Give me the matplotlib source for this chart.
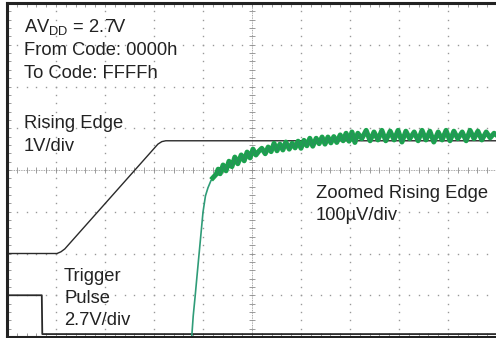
import numpy as np
import matplotlib.pyplot as plt

plt.rcParams['font.family'] = ['Liberation Sans', 'DejaVu Sans']
plt.rcParams['mathtext.fontset'] = 'custom'
plt.rcParams['mathtext.rm'] = 'Liberation Sans'

# traces, in scope divisions (10 x 8 screen)
rise_x = [0.0, 1.02, 1.10, 1.18, 3.08, 3.16, 3.24, 10.2]
rise_y = [2.0, 2.0, 2.04, 2.11, 4.62, 4.68, 4.70, 4.70]

trig_x = [0.0, 0.71, 0.72, 10.2]
trig_y = [1.0, 1.0, 0.07, 0.07]

zoom_steep_x = [3.77, 3.80, 3.84, 3.88, 3.92, 3.96, 4.00, 4.05, 4.10, 4.16, 4.20]
zoom_steep_y = [0.0, 0.50, 0.98, 1.49, 1.99, 2.49, 2.99, 3.38, 3.57, 3.74, 3.81]

zoom_x = [4.20, 4.27, 4.31, 4.35, 4.41, 4.47, 4.53, 4.59, 4.65, 4.71, 4.78, 4.84,
          4.90, 4.96, 5.02, 5.08, 5.14, 5.20, 5.27, 5.33, 5.39, 5.45, 5.51, 5.57,
          5.63, 5.69, 5.76, 5.82, 5.88, 5.94, 6.00, 6.06, 6.12, 6.18, 6.24, 6.31,
          6.37, 6.43, 6.49, 6.55, 6.61, 6.67, 6.73, 6.80, 6.86, 6.92, 6.98, 7.04,
          7.10, 7.16, 7.24, 7.33, 7.41, 7.49, 7.57, 7.65, 7.73, 7.82, 7.90, 7.98,
          8.06, 8.14, 8.22, 8.31, 8.39, 8.47, 8.55, 8.63, 8.71, 8.80, 8.88, 8.96,
          9.04, 9.12, 9.20, 9.29, 9.37, 9.45, 9.53, 9.61, 9.69, 9.78, 9.86, 9.94,
          10.02]
zoom_y = [3.81, 3.90, 4.02, 3.91, 4.12, 3.98, 4.21, 4.08, 4.31, 4.15, 4.36, 4.22,
          4.43, 4.29, 4.50, 4.36, 4.45, 4.52, 4.39, 4.55, 4.44, 4.64, 4.46, 4.62,
          4.48, 4.67, 4.50, 4.64, 4.53, 4.69, 4.52, 4.71, 4.58, 4.76, 4.57, 4.76,
          4.63, 4.79, 4.62, 4.79, 4.65, 4.80, 4.66, 4.84, 4.70, 4.88, 4.69, 4.91,
          4.66, 4.88, 4.75, 4.95, 4.70, 4.91, 4.72, 4.95, 4.70, 4.93, 4.72, 4.95,
          4.67, 4.93, 4.75, 4.91, 4.70, 4.95, 4.72, 4.93, 4.67, 4.91, 4.72, 4.95,
          4.70, 4.93, 4.75, 4.91, 4.70, 4.95, 4.75, 4.93, 4.72, 4.91, 4.77, 4.88,
          4.81]

W, H = 496, 338
fig = plt.figure(figsize=(W / 100, H / 100), dpi=100)
ax = fig.add_axes([7 / W, 1 / H, 490 / W, 334 / H])
ax.set_xlim(0, 10)
ax.set_ylim(0, 8)

# graticule
dots_y = np.arange(0, 8.01, 0.2)
dots_x = np.arange(0, 10.01, 0.2)
for gx in range(1, 10):
    if gx != 5:
        ax.plot(np.full(dots_y.size, gx), dots_y, ls='none', marker='s', ms=1.0,
                mew=0, color='#999999')
for gy in range(1, 8):
    if gy != 4:
        ax.plot(dots_x, np.full(dots_x.size, gy), ls='none', marker='s', ms=1.0,
                mew=0, color='#999999')
# centre axes with ticks
ax.plot([5, 5], [0, 8], ls=(0, (1, 1)), lw=0.6, color='#8c8c8c')
ax.plot([0, 10], [4, 4], ls=(0, (1, 1)), lw=0.6, color='#8c8c8c')
ax.plot(np.full(dots_y.size, 5), dots_y, ls='none', marker='_', ms=4, mew=0.6, color='#8c8c8c')
ax.plot(dots_x, np.full(dots_x.size, 4), ls='none', marker='|', ms=4, mew=0.6, color='#8c8c8c')

# traces
ax.plot(rise_x, rise_y, color='#2a2a2a', lw=1.0)
ax.plot(trig_x, trig_y, color='#2a2a2a', lw=1.3)
ax.plot(zoom_steep_x, zoom_steep_y, color='#2f9c78', lw=1.2)
ax.plot(zoom_x, zoom_y, color='#1ba24d', lw=3.6, solid_joinstyle='round')
ax.plot(zoom_x, zoom_y, color='#2b8f5e', lw=0.7)

# frame
for side in ['left', 'top', 'bottom']:
    ax.spines[side].set_linewidth(2.2)
    ax.spines[side].set_color('#222222')
ax.spines['right'].set_visible(False)
ax.set_xticks(dots_x)
ax.set_yticks(dots_y)
ax.tick_params(direction='in', length=3, width=0.6, color='#8c8c8c',
               top=True, labelbottom=False, labelleft=False)

# labels
fs = 13.2
def label(px, py, s):
    fig.text(px / W, 1 - py / H, s, fontsize=fs, va='baseline', ha='left', color='#222222')

label(24, 32, r'AV$_{\mathrm{DD}}$ = 2.7V')
label(24, 55, 'From Code: 0000h')
label(24, 78, 'To Code: FFFFh')
label(24, 128, 'Rising Edge')
label(24, 151, '1V/div')
label(64, 281, 'Trigger')
label(64, 303, 'Pulse')
label(64, 325, '2.7V/div')
label(316, 198, 'Zoomed Rising Edge')
label(316, 220, '100\u00b5V/div')

fig.savefig('out.png', dpi=100)
